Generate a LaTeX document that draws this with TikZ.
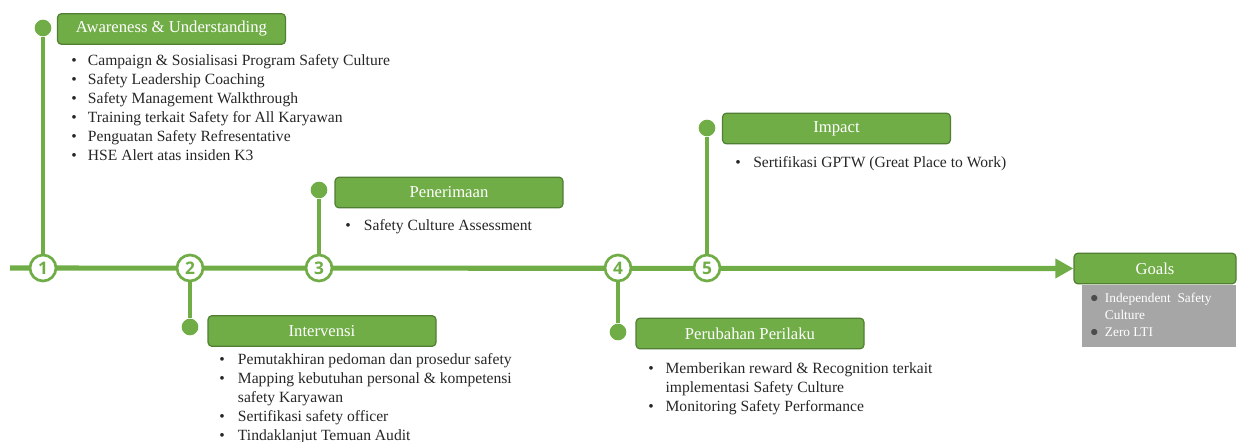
\documentclass[tikz,border=0pt]{standalone}
\usepackage{fontspec}
\setmainfont{Liberation Serif}
\newfontfamily\numfont{Open Sans}
\usetikzlibrary{arrows.meta,backgrounds}
\definecolor{leaf}{HTML}{70AD47}
\definecolor{leafdark}{HTML}{507E32}
\definecolor{stone}{HTML}{A6A6A6}
\begin{document}
\begin{tikzpicture}[x=0.75pt,y=-0.75pt,
    phase/.style={draw=leafdark, fill=leaf, line width=0.9pt, rounded corners=3pt,
      text=white, font=\fontsize{12.5}{14}\selectfont, minimum width=171pt, minimum height=23pt, inner sep=0pt},
    dot/.style={circle, fill=leaf, minimum size=12.5pt, inner sep=0pt},
    num/.style={circle, draw=leaf, fill=white, line width=2pt, minimum size=19.5pt, inner sep=0pt,
      text=leaf, font=\numfont\bfseries\fontsize{13}{13}\selectfont},
    items/.style={anchor=base west, inner sep=0pt, font=\fontsize{11.7}{14.25}\selectfont, text=black!85},
    stem/.style={leaf, line width=2.4pt},
    timeline/.style={leaf, line width=3.8pt, -{Triangle[length=13.5pt,width=14pt]}}]
  \useasboundingbox (0,0) rectangle (1238,442);

  % timeline points
  \node[num] (num1) at (43,268) {1};
  \node[num] (num2) at (190,268) {2};
  \node[num] (num3) at (319,268) {3};
  \node[num] (num4) at (618,268) {4};
  \node[num] (num5) at (707,268) {5};
  \coordinate (start) at (10,268);

  \node[dot] (dot1) at (43,28) {};
  \node[dot] (dot2) at (190,327) {};
  \node[dot] (dot3) at (319,190) {};
  \node[dot] (dot4) at (618,332) {};
  \node[dot] (dot5) at (707,128) {};

  % phases
  \node[phase] (aware) at (171.5,29) {Awareness \& Understanding};
  \node[phase] (interv) at (322,331) {Intervensi};
  \node[phase] (accept) at (449,192.5) {Penerimaan};
  \node[phase] (change) at (750,333.5) {Perubahan Perilaku};
  \node[phase] (impact) at (836.5,128.5) {Impact};
  \node[phase, minimum width=121.5pt] (goals) at (1155,268.5) {Goals};
  \node[fill=stone, minimum width=115.5pt, minimum height=46.5pt, anchor=north] (goalsbox) at (1159,284.5) {};

  % lists
  \node[items] (list1) at (71,66) {\begin{tabular}[t]{@{}p{12.5pt}@{}l@{}}
    \textbullet & Campaign \& Sosialisasi Program Safety Culture\\
    \textbullet & Safety Leadership Coaching\\
    \textbullet & Safety Management Walkthrough\\
    \textbullet & Training terkait Safety for All Karyawan\\
    \textbullet & Penguatan Safety Refresentative\\
    \textbullet & HSE Alert atas insiden K3
  \end{tabular}};
  \node[items] (list2) at (219,364) {\begin{tabular}[t]{@{}p{14pt}@{}l@{}}
    \textbullet & Pemutakhiran pedoman dan prosedur safety\\
    \textbullet & Mapping kebutuhan personal \& kompetensi\\
    & safety Karyawan\\
    \textbullet & Sertifikasi safety officer\\
    \textbullet & Tindaklanjut Temuan Audit
  \end{tabular}};
  \node[items] (list3) at (345,230) {\begin{tabular}[t]{@{}p{14pt}@{}l@{}}
    \textbullet & Safety Culture Assessment
  \end{tabular}};
  \node[items] (list4) at (648,373) {\begin{tabular}[t]{@{}p{13pt}@{}l@{}}
    \textbullet & Memberikan reward \&  Recognition terkait\\
    & implementasi Safety Culture\\
    \textbullet & Monitoring Safety Performance
  \end{tabular}};
  \node[items] (list5) at (735,167) {\begin{tabular}[t]{@{}p{13.5pt}@{}l@{}}
    \textbullet & Sertifikasi GPTW (Great Place to Work)
  \end{tabular}};
  \node[items, text=white, font=\fontsize{10}{12.75}\selectfont] (list6) at (1090,302) {\begin{tabular}[t]{@{}p{11pt}@{}l@{}}
    \textcolor{black!70}{\large$\bullet$} & Independent\ \ Safety\\
    & Culture\\
    \textcolor{black!70}{\large$\bullet$} & Zero LTI
  \end{tabular}};

  \begin{scope}[on background layer]
    \draw[timeline] (start) -- (goals.west);
    \draw[stem] (dot1) -- (num1);
    \draw[stem] (dot2) -- (num2);
    \draw[stem] (dot3) -- (num3);
    \draw[stem] (dot4) -- (num4);
    \draw[stem] (dot5) -- (num5);
  \end{scope}
\end{tikzpicture}
\end{document}
